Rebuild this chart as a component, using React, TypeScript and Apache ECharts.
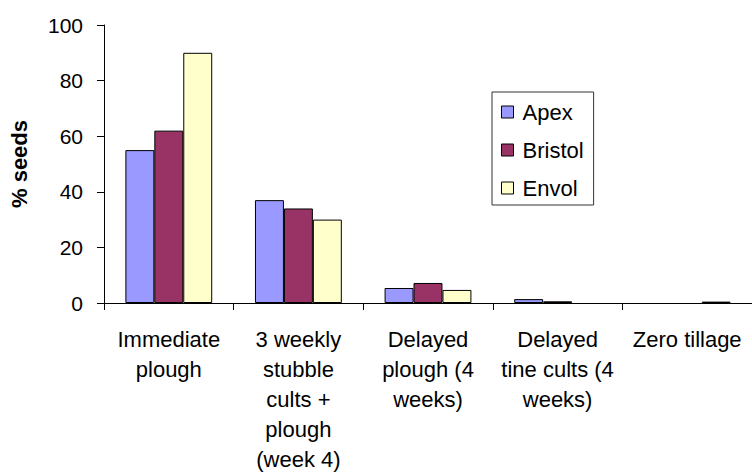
import React, { useEffect, useRef } from "react";
import * as echarts from "echarts";

const categories = [
  "Immediate\nplough",
  "3 weekly\nstubble\ncults +\nplough\n(week 4)",
  "Delayed\nplough (4\nweeks)",
  "Delayed\ntine cults (4\nweeks)",
  "Zero tillage",
];
const apex = [55, 37, 5.4, 1.4, 0];
const bristol = [62, 34, 7.2, 0.6, 0];
const envol = [90, 30, 4.7, 0, 0.5];
const yTicks = { min: 0, max: 100, interval: 20 };

const FONT = "'Liberation Sans', Arial, sans-serif";

export default function App() {
  const ref = useRef<HTMLDivElement>(null);
  useEffect(() => {
    if (!ref.current) return;
    const chart = echarts.init(ref.current, undefined, { renderer: "svg" });
    const mk = (name: string, data: number[], color: string) => ({
      name,
      type: "bar",
      data: data.map((v) =>
        v === 0 ? { value: v, itemStyle: { borderWidth: 0 } } : v
      ),
      barGap: "0%",
      barCategoryGap: "33%",
      itemStyle: { color, borderColor: "#000", borderWidth: 1 },
    });
    chart.setOption({
      animation: false,
      backgroundColor: "#fff",
      textStyle: { fontFamily: FONT, color: "#000" },
      grid: { left: 104, top: 25, width: 650, height: 285 },
      legend: {
        orient: "vertical",
        left: 492,
        top: 92,
        padding: [9, 10, 6, 9],
        itemGap: 16,
        itemWidth: 12,
        itemHeight: 12,
        icon: "rect",
        borderColor: "#333",
        borderWidth: 1,
        backgroundColor: "#fff",
        itemStyle: { borderColor: "#000", borderWidth: 1 },
        textStyle: {
          fontSize: 22,
          color: "#000",
          fontFamily: FONT,
          padding: [0, 0, 0, 4],
        },
        data: ["Apex", "Bristol", "Envol"],
      },
      xAxis: {
        type: "category",
        data: categories,
        axisLine: { lineStyle: { color: "#000", width: 1 } },
        axisTick: { show: true, length: 7, lineStyle: { color: "#000" } },
        axisLabel: {
          interval: 0,
          fontSize: 22,
          lineHeight: 30,
          margin: 21,
          color: "#000",
          fontFamily: FONT,
        },
      },
      yAxis: {
        type: "value",
        min: yTicks.min,
        max: yTicks.max,
        interval: yTicks.interval,
        name: "% seeds",
        nameLocation: "middle",
        nameGap: 74,
        nameTextStyle: {
          fontSize: 22,
          fontWeight: "bold",
          color: "#000",
          fontFamily: FONT,
        },
        axisLine: { show: true, lineStyle: { color: "#000", width: 1 } },
        axisTick: { show: true, length: 7, lineStyle: { color: "#000" } },
        axisLabel: { fontSize: 21, margin: 21, color: "#000", fontFamily: FONT },
        splitLine: { show: false },
      },
      series: [
        mk("Apex", apex, "#9999FF"),
        mk("Bristol", bristol, "#993366"),
        mk("Envol", envol, "#FFFFCC"),
      ],
    });
    return () => chart.dispose();
  }, []);
  return (
    <div
      ref={ref}
      style={{ position: "fixed", left: 0, top: 0, width: 752, height: 474 }}
    />
  );
}
